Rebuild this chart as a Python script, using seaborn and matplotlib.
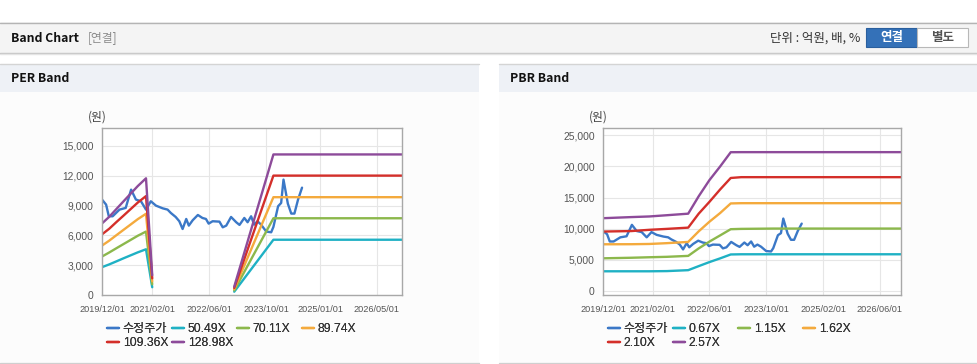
import pandas as pd
import matplotlib.pyplot as plt
import seaborn as sns
from matplotlib.patches import Rectangle

#----------------------
# Data
#----------------------
# adjusted price, shared by both charts
price_dates = [
    "2019-12-01", "2020-01-05", "2020-01-28", "2020-03-01", "2020-04-28", "2020-06-20",
    "2020-08-05", "2020-09-15", "2020-10-28", "2020-12-10", "2021-01-20", "2021-03-05",
    "2021-05-01", "2021-06-12", "2021-07-10", "2021-08-20", "2021-09-20", "2021-10-18",
    "2021-11-18", "2021-12-10", "2022-01-12", "2022-02-25", "2022-04-05", "2022-05-05",
    "2022-05-28", "2022-07-01", "2022-08-28", "2022-09-25", "2022-10-25", "2022-12-05",
    "2023-01-18", "2023-02-15", "2023-03-28", "2023-04-25", "2023-05-25", "2023-06-20",
    "2023-07-18", "2023-08-18", "2023-10-01", "2023-11-12", "2023-12-01", "2024-01-10",
    "2024-02-05", "2024-02-25", "2024-04-02", "2024-05-01", "2024-05-28", "2024-06-28",
    "2024-08-01",
]
price = [
    9600, 9090, 7920, 7920, 8590, 8760,
    10600, 9600, 9430, 8590, 9430, 8990,
    8720, 8590, 8250, 7850, 7420, 6640,
    7650, 6980, 7520, 8050, 7750, 7650,
    7180, 7420, 7380, 6810, 6980, 7850,
    7320, 7050, 7750, 7320, 7920, 7080,
    7420, 7080, 6380, 6310, 6850, 8930,
    9260, 11610, 9190, 8190, 8190, 9600,
    10800,
]

# PER bands: two segments (gap in between)
per_dates_a = ["2019-12-01", "2020-02-01", "2020-04-01", "2020-06-01",
               "2020-08-01", "2020-10-01", "2020-12-10", "2021-02-01"]
per_dates_b = ["2023-01-01", "2023-12-01", "2026-12-01"]
per_labels = ["50.49X", "70.11X", "89.74X", "109.36X", "128.98X"]
per_5049_a = [2800, 3080, 3380, 3690, 3990, 4290, 4600, 780]
per_7011_a = [3870, 4280, 4700, 5120, 5540, 5960, 6380, 1080]
per_8974_a = [4970, 5470, 6010, 6550, 7090, 7630, 8170, 1380]
per_10936_a = [6100, 6670, 7330, 7980, 8640, 9300, 9950, 1680]
per_12898_a = [7200, 7870, 8640, 9420, 10190, 10960, 11740, 1990]
per_5049_b = [330, 5560, 5560]
per_7011_b = [460, 7720, 7720]
per_8974_b = [590, 9840, 9840]
per_10936_b = [710, 12010, 12010]
per_12898_b = [840, 14140, 14140]

# PBR bands
pbr_dates = ["2019-12-01", "2020-08-01", "2021-01-01", "2021-06-01", "2021-12-01",
             "2022-03-01", "2022-06-01", "2022-09-01", "2022-12-01", "2023-03-01",
             "2023-12-01", "2026-12-01"]
pbr_labels = ["0.67X", "1.15X", "1.62X", "2.10X", "2.57X"]
pbr_067 = [3120, 3120, 3120, 3150, 3300, 3950, 4600, 5200, 5830, 5860, 5860, 5860]
pbr_115 = [5210, 5300, 5380, 5450, 5600, 6800, 7900, 8900, 9900, 9950, 10000, 10000]
pbr_162 = [7470, 7480, 7520, 7650, 7850, 9550, 11100, 12500, 14050, 14090, 14090, 14090]
pbr_210 = [9520, 9600, 9800, 9950, 10150, 12400, 14300, 16300, 18150, 18280, 18280, 18280]
pbr_257 = [11670, 11850, 11950, 12150, 12400, 15200, 17800, 20000, 22300, 22310, 22310, 22310]

per_ticks = ["2019-12-01", "2021-02-01", "2022-06-01", "2023-10-01", "2025-01-01", "2026-05-01"]
pbr_ticks = ["2019-12-01", "2021-02-01", "2022-06-01", "2023-10-01", "2025-02-01", "2026-06-01"]

price_name = "수정주가"
colors = ["#3b78c7", "#1fb1c4", "#8cb84c", "#f4aa3d", "#d42f2a", "#8d4b9a"]

#----------------------
# Long-form tables
#----------------------
def make_rows(dates, values, name, seg):
    return pd.DataFrame({"date": pd.to_datetime(dates), "value": values,
                         "series": name, "seg": seg})

price_df = make_rows(price_dates, price, price_name, 0)

per_df = pd.concat(
    [price_df]
    + [make_rows(per_dates_a, v, lab, 1) for lab, v in zip(
        per_labels, [per_5049_a, per_7011_a, per_8974_a, per_10936_a, per_12898_a])]
    + [make_rows(per_dates_b, v, lab, 2) for lab, v in zip(
        per_labels, [per_5049_b, per_7011_b, per_8974_b, per_10936_b, per_12898_b])],
    ignore_index=True)

pbr_df = pd.concat(
    [price_df]
    + [make_rows(pbr_dates, v, lab, 1) for lab, v in zip(
        pbr_labels, [pbr_067, pbr_115, pbr_162, pbr_210, pbr_257])],
    ignore_index=True)

#----------------------
# Figure
#----------------------
sns.set_style("white")
plt.rcParams["font.family"] = ["Noto Sans CJK KR", "DejaVu Sans"]
num_font = ["Liberation Sans", "Noto Sans CJK KR"]

W, H = 978, 364
fig = plt.figure(figsize=(W / 100, H / 100), dpi=100)
fig.patch.set_facecolor("white")


def box(x0, y0, x1, y1, z=-5, **kw):
    fig.patches.append(Rectangle((x0 / W, 1 - y1 / H), (x1 - x0) / W, (y1 - y0) / H,
                                 transform=fig.transFigure, zorder=z, **kw))


def hline(x0, x1, y, color, lw=1):
    fig.add_artist(plt.Line2D([x0 / W, x1 / W], [1 - y / H, 1 - y / H],
                              transform=fig.transFigure, color=color, lw=lw, zorder=-4))


def ftext(x, y, s, **kw):
    fig.text(x / W, 1 - y / H, s, va="center", **kw)


# header bar
box(0, 22, W, 53, facecolor="#f4f4f4", edgecolor="none")
hline(0, W, 22.5, "#b4b4b4")
hline(0, W, 53, "#c4c4c4")
hline(0, W, 54, "#e4e4e4")
ftext(11, 38, "Band Chart", fontsize=8.8, fontweight="bold", color="#111111")
ftext(88, 38, "[연결]", fontsize=8.5, color="#8a8a8a")
ftext(860, 38, "단위 : 억원, 배, %", fontsize=9, color="#333333", ha="right")
box(866, 28, 917, 47, z=2, facecolor="#3471b8", edgecolor="#2a5f9e", lw=0.8)
box(917, 28, 968, 47, z=2, facecolor="white", edgecolor="#b8b8b8", lw=0.8)
ftext(891.5, 38, "연결", fontsize=9, fontweight="bold", color="white", ha="center")
ftext(942.5, 38, "별도", fontsize=9, fontweight="bold", color="#555555", ha="center")

# panels
for px0, px1, title in [(0, 479, "PER Band"), (499, W, "PBR Band")]:
    box(px0, 92, px1, 362, facecolor="#fcfcfc", edgecolor="none")
    box(px0, 64, px1, 92, facecolor="#eef1f6", edgecolor="none")
    hline(px0, px1, 64, "#d4d4d4")
    hline(px0, px1, 362.5, "#cfcfcf")
    ftext(px0 + 11, 79, title, fontsize=8.8, fontweight="bold", color="#111111")

palette_per = dict(zip([price_name] + per_labels, colors))
palette_pbr = dict(zip([price_name] + pbr_labels, colors))


def draw(ax, df, labels, palette, ticks, ylim, yticks, left_px):
    sns.lineplot(data=df, x="date", y="value", hue="series", units="seg",
                 estimator=None, hue_order=[price_name] + labels,
                 palette=palette, linewidth=1.7, ax=ax, legend=True)
    ax.set_facecolor("white")
    ax.set_xlim(pd.Timestamp("2019-12-01"), pd.Timestamp("2026-12-01"))
    ax.set_ylim(*ylim)
    ax.set_xticks(pd.to_datetime(ticks))
    ax.set_xticklabels([t.replace("-", "/") for t in ticks], family=num_font, fontsize=6.6)
    ax.set_yticks(yticks)
    ax.set_yticklabels([f"{v:,}" for v in yticks], family=num_font, fontsize=7.4)
    ax.grid(True, color="#e6e6e6", lw=0.8)
    ax.set_axisbelow(True)
    for s in ax.spines.values():
        s.set_color("#a8a8a8")
        s.set_linewidth(1)
    ax.tick_params(axis="both", labelcolor="#555555", color="#a8a8a8",
                   length=4, width=0.8, direction="out", pad=2)
    ax.tick_params(axis="x", pad=3)
    ax.set_xlabel("")
    ax.set_ylabel("")
    ftext(left_px - 5, 117, "(원)", fontsize=8.5, color="#444444", ha="center")

    # one small legend per column so the columns sit on a fixed 65px grid
    handles, labs = ax.get_legend_handles_labels()
    ax.get_legend().remove()
    columns = [[0, 4], [1, 5], [2], [3]]
    for c, idx in enumerate(columns):
        leg = fig.legend([handles[i] for i in idx], [labs[i] for i in idx],
                         loc="upper left",
                         bbox_to_anchor=((left_px + 5 + 65 * c) / W, 1 - 323 / H),
                         ncol=1, frameon=False, handlelength=1.0,
                         handletextpad=0.3, labelspacing=0.2,
                         borderpad=0, borderaxespad=0, labelcolor="#333333",
                         prop={"family": num_font, "size": 8.7})
        fig.add_artist(leg)


ax1 = fig.add_axes([102 / W, 1 - 295 / H, 300 / W, 167 / H])
draw(ax1, per_df, per_labels, palette_per, per_ticks, (0, 16800),
     [0, 3000, 6000, 9000, 12000, 15000], 102)

ax2 = fig.add_axes([603 / W, 1 - 295 / H, 298 / W, 167 / H])
draw(ax2, pbr_df, pbr_labels, palette_pbr, pbr_ticks, (-700, 26200),
     [0, 5000, 10000, 15000, 20000, 25000], 603)

plt.savefig("out.png", dpi=100)
